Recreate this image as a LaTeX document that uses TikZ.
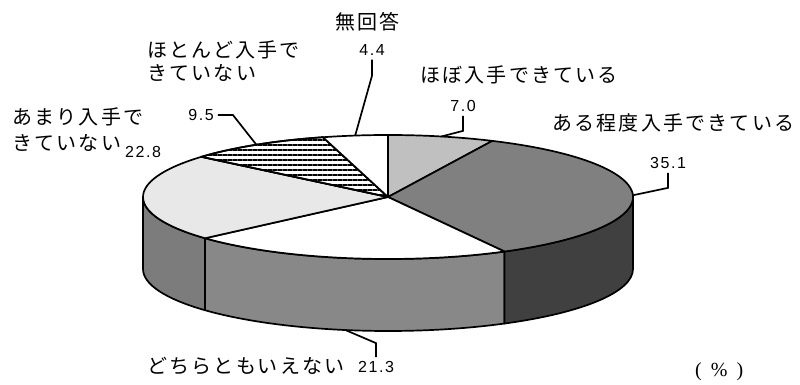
\documentclass[tikz,border=0pt]{standalone}
\usepackage{fontspec}
\setmainfont{Liberation Sans}
\newfontfamily\jpfont[LetterSpace=11]{Noto Sans CJK JP}
\newfontfamily\numfont[LetterSpace=10]{Liberation Sans}
\newfontfamily\pctfont[LetterSpace=45]{Liberation Serif}
\usepackage{tikz}
\usetikzlibrary{patterns.meta}

\definecolor{topLight}{HTML}{C0C0C0}
\definecolor{topMid}{HTML}{808080}
\definecolor{topPale}{HTML}{E8E8E8}
\definecolor{sideLeft}{HTML}{7C7C7C}
\definecolor{sideMid}{HTML}{888888}
\definecolor{sideDark}{HTML}{404040}

\begin{document}
\begin{tikzpicture}[
    x=1pt, y=1pt,
    rim/.style={draw=black, line width=1.7pt, line join=round},
    lbl/.style={font=\jpfont\fontsize{20}{23}\selectfont, align=left, inner sep=0pt, anchor=west},
    num/.style={font=\numfont\fontsize{16}{18}\selectfont, inner sep=4pt},
    leader/.style={line width=1.7pt}
]
\useasboundingbox (0,0) rectangle (800,385);

% --- Centro de la tarta (cara superior e inferior) ---
\coordinate (c) at (388,188);
\coordinate (cb) at (388,116);

% --- Laterales visibles ---
\filldraw[rim, fill=sideLeft] (c) ++(180:245 and 62) arc[start angle=180, end angle=221.7, x radius=245, y radius=62]
    -- ++(0,-72) arc[start angle=221.7, end angle=180, x radius=245, y radius=62] -- cycle;
\filldraw[rim, fill=sideMid] (c) ++(221.7:245 and 62) arc[start angle=221.7, end angle=298.4, x radius=245, y radius=62]
    -- ++(0,-72) arc[start angle=298.4, end angle=221.7, x radius=245, y radius=62] -- cycle;
\filldraw[rim, fill=sideDark] (c) ++(298.4:245 and 62) arc[start angle=298.4, end angle=360, x radius=245, y radius=62]
    -- ++(0,-72) arc[start angle=360, end angle=298.4, x radius=245, y radius=62] -- cycle;

% --- Sectores (cara superior) ---
\filldraw[rim, fill=topLight] (c) -- ++(90:245 and 62) arc[start angle=90, end angle=64.8, x radius=245, y radius=62] -- cycle;
\filldraw[rim, fill=topMid] (c) -- ++(64.8:245 and 62) arc[start angle=64.8, end angle=-61.6, x radius=245, y radius=62] -- cycle;
\filldraw[rim, fill=white] (c) -- ++(-61.6:245 and 62) arc[start angle=-61.6, end angle=-138.3, x radius=245, y radius=62] -- cycle;
\filldraw[rim, fill=topPale] (c) -- ++(-138.3:245 and 62) arc[start angle=-138.3, end angle=-220.4, x radius=245, y radius=62] -- cycle;
\filldraw[rim, fill=white] (c) -- ++(139.6:245 and 62) arc[start angle=139.6, end angle=105.4, x radius=245, y radius=62] -- cycle;
\draw[rim, pattern={Lines[angle=0, distance=5pt, line width=1.6pt]}] (c) -- ++(139.6:245 and 62) arc[start angle=139.6, end angle=105.4, x radius=245, y radius=62] -- cycle;
\filldraw[rim, fill=white] (c) -- ++(105.4:245 and 62) arc[start angle=105.4, end angle=90, x radius=245, y radius=62] -- cycle;

% puntos de anclaje de las guías
\path (c) ++(97.7:245 and 62) coordinate (p44);
\path (c) ++(122.5:245 and 62) coordinate (p95);
\path (c) ++(77.4:245 and 62) coordinate (p70);
\path (c) ++(1.6:245 and 62) coordinate (p351);
\path (cb) ++(-100:245 and 62) coordinate (p213);

% --- Etiquetas ---
\node[lbl] (mukaito) at (335,363) {無回答};
\node[lbl] (hotondo) at (147,323.5) {ほとんど入手で\\きていない};
\node[lbl, font=\jpfont\fontsize{20}{26}\selectfont] (amari) at (12,255) {あまり入手で\\きていない};
\node[lbl] (hobo) at (420,310) {ほぼ入手できている};
\node[lbl] (aru) at (552,262) {ある程度入手できている};
\node[lbl] (dochira) at (147,19) {どちらともいえない};
\node[anchor=west, inner sep=0pt, font=\pctfont\fontsize{20}{22}\selectfont] (pct) at (695,13) {(\%)};

% --- Valores ---
\node[num] (n44) at (372,335) {4.4};
\node[num] (n95) at (201,270) {9.5};
\node[num] (n70) at (463,279) {7.0};
\node[num] (n351) at (668,222) {35.1};
\node[num] (n213) at (376,18) {21.3};
\node[num] (n228) at (143,233) {22.8};

% --- Guías ---
\draw[leader] (n44.south) -- ++(0,-16) -- (p44);
\draw[leader] (n95.east) -- ++(15,0) -- (p95);
\draw[leader] (n70.south) -- ++(0,-15) -- (p70);
\draw[leader] (n351.south) -- ++(0,-15) -- (p351);
\draw[leader] (n213.north) -- ++(0,14) -- (p213);

\end{tikzpicture}
\end{document}
